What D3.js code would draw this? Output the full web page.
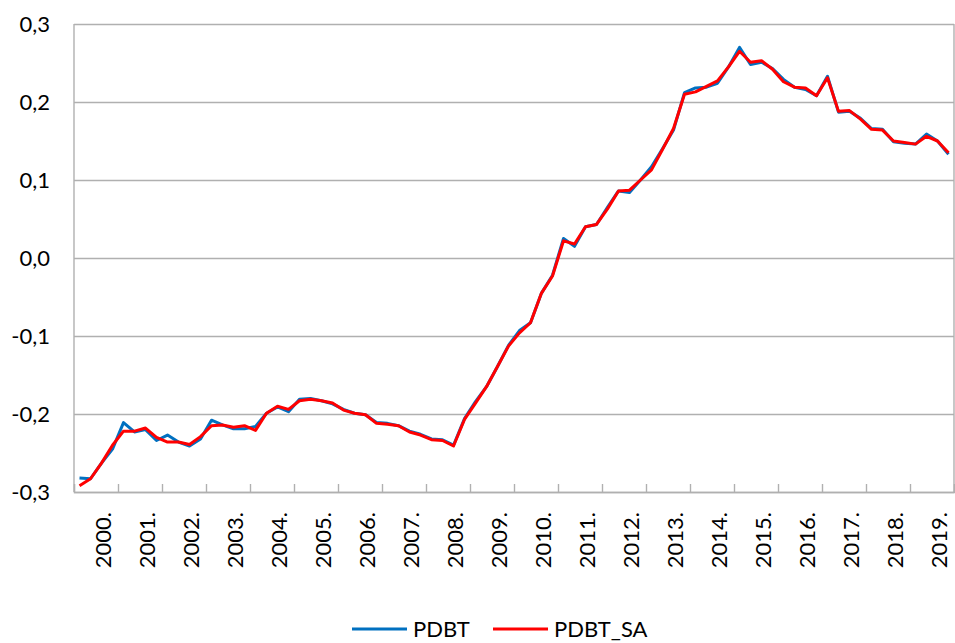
<!DOCTYPE html>
<html>
<head>
<meta charset="utf-8">
<script src="https://cdn.jsdelivr.net/npm/d3@7"></script>
<style>
  body { margin: 0; background: #fff; }
  svg text { font-family: Lato, "Open Sans", sans-serif; fill: #000; }
</style>
</head>
<body>
<div id="chart"></div>
<script>
// year categories (4 quarters each)
const years = ["2000.", "2001.", "2002.", "2003.", "2004.", "2005.", "2006.", "2007.", "2008.", "2009.",
               "2010.", "2011.", "2012.", "2013.", "2014.", "2015.", "2016.", "2017.", "2018.", "2019."];
const yTicks = [-0.3, -0.2, -0.1, 0, 0.1, 0.2, 0.3];

// PDBT, quarterly
const pdbt = [
  -0.282, -0.283, -0.263, -0.245, -0.211, -0.223, -0.220, -0.234, -0.227, -0.236,
  -0.241, -0.232, -0.208, -0.214, -0.219, -0.219, -0.216, -0.199, -0.191, -0.197,
  -0.181, -0.180, -0.183, -0.187, -0.194, -0.199, -0.201, -0.211, -0.212, -0.215,
  -0.222, -0.226, -0.232, -0.233, -0.240, -0.206, -0.184, -0.165, -0.139, -0.112,
  -0.093, -0.083, -0.045, -0.022, 0.025, 0.015, 0.040, 0.043, 0.065, 0.086,
  0.084, 0.100, 0.117, 0.140, 0.164, 0.212, 0.218, 0.219, 0.224, 0.245,
  0.270, 0.248, 0.251, 0.243, 0.229, 0.219, 0.216, 0.208, 0.233, 0.187,
  0.188, 0.179, 0.166, 0.165, 0.149, 0.147, 0.146, 0.159, 0.150, 0.133
];

// PDBT_SA, seasonally adjusted
const pdbtSa = [
  -0.292, -0.283, -0.263, -0.240, -0.222, -0.222, -0.218, -0.230, -0.236, -0.236,
  -0.239, -0.229, -0.215, -0.214, -0.217, -0.215, -0.221, -0.199, -0.190, -0.194,
  -0.183, -0.181, -0.183, -0.186, -0.195, -0.199, -0.201, -0.212, -0.213, -0.215,
  -0.223, -0.227, -0.233, -0.234, -0.241, -0.207, -0.186, -0.165, -0.139, -0.113,
  -0.096, -0.083, -0.045, -0.023, 0.022, 0.018, 0.040, 0.043, 0.063, 0.086,
  0.087, 0.100, 0.113, 0.139, 0.166, 0.210, 0.213, 0.220, 0.227, 0.245,
  0.265, 0.251, 0.253, 0.242, 0.226, 0.219, 0.218, 0.208, 0.231, 0.188,
  0.189, 0.178, 0.165, 0.164, 0.150, 0.148, 0.146, 0.156, 0.150, 0.135
];

const margin = {top: 24, right: 1, bottom: 151, left: 74},
    width = 955 - margin.left - margin.right,
    height = 643 - margin.top - margin.bottom;

const svg = d3.select("#chart")
    .append("svg")
      .attr("width", width + margin.left + margin.right)
      .attr("height", height + margin.top + margin.bottom)
    .append("g")
      .attr("transform", `translate(${margin.left}, ${margin.top})`);

const quarters = years.flatMap(y => ["Q1", "Q2", "Q3", "Q4"].map(q => y + q));

const x = d3.scaleBand().domain(quarters).range([0, width]);
const xYear = d3.scaleBand().domain(years).range([0, width]);
const xEdge = d3.scaleLinear().domain([0, years.length]).range([0, width]);
const y = d3.scaleLinear().domain([-0.3, 0.3]).range([height, 0]);

const loc = d3.formatLocale({decimal: ",", thousands: ".", grouping: [3], currency: ["", ""], minus: "-"});
const fmt = loc.format(".1f");

const gridColor = "#b0b0b0";

// horizontal gridlines + y labels
const yAxis = svg.append("g")
    .call(d3.axisLeft(y).tickValues(yTicks).tickSize(-width).tickPadding(24).tickFormat(fmt));
yAxis.select(".domain").remove();
yAxis.selectAll("line").attr("stroke", gridColor).attr("stroke-width", 1.4);
yAxis.selectAll("text").style("font-size", "22px");

// frame: left, right
svg.append("line").attr("x1", 0).attr("x2", 0).attr("y1", 0).attr("y2", height)
    .attr("stroke", gridColor).attr("stroke-width", 1.4);
svg.append("line").attr("x1", width).attr("x2", width).attr("y1", 0).attr("y2", height)
    .attr("stroke", gridColor).attr("stroke-width", 1.4);

// tick marks between years, pointing up
const tickAxis = svg.append("g")
    .attr("transform", `translate(0,${height})`)
    .call(d3.axisBottom(xEdge).tickValues(d3.range(1, years.length)).tickSize(-8).tickFormat(""));
tickAxis.select(".domain").attr("stroke", gridColor).attr("stroke-width", 1.6);
tickAxis.selectAll("line").attr("stroke", gridColor).attr("stroke-width", 1.4);

// year labels, rotated
const labelAxis = svg.append("g")
    .attr("transform", `translate(0,${height})`)
    .call(d3.axisBottom(xYear).tickSize(0));
labelAxis.select(".domain").remove();
labelAxis.selectAll("text")
    .style("font-size", "22px")
    .attr("transform", "rotate(-90)")
    .attr("text-anchor", "end")
    .attr("x", -20)
    .attr("y", 0)
    .attr("dy", "0.7em");

// lines
const line = d3.line()
    .x((d, i) => x(quarters[i]) + x.bandwidth() / 2)
    .y(d => y(d));

const series = [
  {name: "PDBT", values: pdbt, color: "#0070C0"},
  {name: "PDBT_SA", values: pdbtSa, color: "#FF0000"}
];

svg.selectAll(".series")
  .data(series)
  .join("path")
    .attr("class", "series")
    .attr("d", d => line(d.values))
    .attr("fill", "none")
    .attr("stroke", d => d.color)
    .attr("stroke-width", 3)
    .attr("stroke-linejoin", "round");

// legend (kept just inside the bottom edge)
const legend = svg.append("g")
    .attr("transform", `translate(0, ${629 - margin.top})`);
const legendX = [352 - margin.left, 493 - margin.left];
const item = legend.selectAll("g")
  .data(series)
  .join("g")
    .attr("transform", (d, i) => `translate(${legendX[i]},0)`);
item.append("line")
    .attr("x1", 0).attr("x2", 55)
    .attr("stroke", d => d.color)
    .attr("stroke-width", 3);
item.append("text")
    .attr("x", 61)
    .attr("y", 8)
    .style("font-size", "22px")
    .text(d => d.name);
</script>
</body>
</html>
